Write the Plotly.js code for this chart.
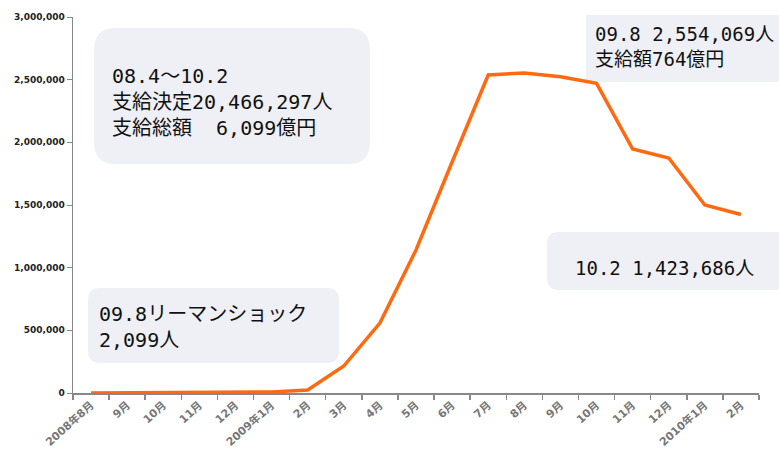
<!DOCTYPE html>
<html><head><meta charset="utf-8">
<script src="https://cdn.plot.ly/plotly-3.0.1.min.js"></script>
<style>body{margin:0;background:#fff}#c{width:779px;height:455px}</style>
</head><body><div id="c"></div>
<script>
const months = ["2008年8月","9月","10月","11月","12月","2009年1月","2月","3月","4月","5月","6月","7月","8月","9月","10月","11月","12月","2010年1月","2月"];
const recipients = [500, 2099, 3000, 4000, 5000, 8000, 24000, 215000, 558000, 1141000, 1843000, 2537000, 2554069, 2524000, 2471000, 1947000, 1875000, 1500000, 1423686];
const yTicks = [0, 500000, 1000000, 1500000, 2000000, 2500000, 3000000];
const yTickText = ["0","500,000","1,000,000","1,500,000","2,000,000","2,500,000","3,000,000"];
const monthIndex = months.map((m, i) => i);

const W = 779, H = 455, L = 73, R = 759, T = 17, B = 393;
const px = x => (x - L) / (R - L);
const py = y => (B - y) / (B - T);
function rrect(x0, y0, x1, y1, r) {
  const rx = r / (R - L), ry = r / (B - T);
  const a = px(x0), b = px(x1), top = py(y0), bot = py(y1);
  return `M${a+rx},${top} L${b-rx},${top} Q${b},${top} ${b},${top-ry} L${b},${bot+ry} Q${b},${bot} ${b-rx},${bot} L${a+rx},${bot} Q${a},${bot} ${a},${bot+ry} L${a},${top-ry} Q${a},${top} ${a+rx},${top} Z`;
}
const boxFill = "#eff0f5";
const boxes = [
  [94, 28, 370, 164, 22],
  [586, 15, 800, 82, 0],
  [547, 232, 800, 290, 12],
  [88, 288, 339, 363, 12]
];
const shapes = boxes.map(b => ({type: "path", xref: "paper", yref: "paper", path: rrect(b[0], b[1], b[2], b[3], b[4]), fillcolor: boxFill, line: {width: 0}, layer: "below"}));
const fam = "'DejaVu Sans Mono', 'Noto Sans CJK JP', monospace";
const ann = (x, y, text, size) => ({xref: "paper", yref: "paper", x: px(x), y: py(y), xanchor: "left", yanchor: "middle", align: "left", showarrow: false, text, font: {family: fam, size: size, color: "#111"}});
const annotations = [
  ann(110, 102, "08.4〜10.2<br>支給決定20,466,297人<br>支給総額  6,099億円", 20),
  ann(593, 47, "09.8 2,554,069人<br>支給額764億円", 19),
  ann(573, 268, "10.2 1,423,686人", 19),
  ann(97, 327, "09.8リーマンショック<br>2,099人", 20)
];

Plotly.newPlot("c", [{
  x: monthIndex, y: recipients, type: "scatter", mode: "lines",
  line: {color: "#ff6a10", width: 3.5}, hoverinfo: "none"
}], {
  width: W, height: H,
  margin: {l: L, r: W - R, t: T, b: H - B},
  paper_bgcolor: "#fff", plot_bgcolor: "rgba(0,0,0,0)",
  showlegend: false,
  shapes, annotations,
  xaxis: {type: "linear", range: [-0.5, 18.5], tickmode: "array", tickvals: monthIndex, ticktext: months, ticks: "",
    minor: {tick0: -0.5, dtick: 1, ticks: "outside", ticklen: 5, tickcolor: "#888", tickwidth: 1.5, showgrid: false},
    showline: true, linecolor: "#888", linewidth: 1.5, showgrid: false, zeroline: false, tickangle: -42,
    tickfont: {family: "'DejaVu Sans', 'Noto Sans CJK JP', sans-serif", size: 11, color: "#777", weight: "bold"}},
  yaxis: {range: [0, 3000000], tickmode: "array", tickvals: yTicks, ticktext: yTickText, ticks: "outside", ticklen: 5, tickcolor: "#888",
    showline: true, linecolor: "#888", linewidth: 1.5, showgrid: false, zeroline: false,
    tickfont: {family: "'DejaVu Sans', sans-serif", size: 9, color: "#222", weight: "bold"}}
}, {staticPlot: true});
</script></body></html>
